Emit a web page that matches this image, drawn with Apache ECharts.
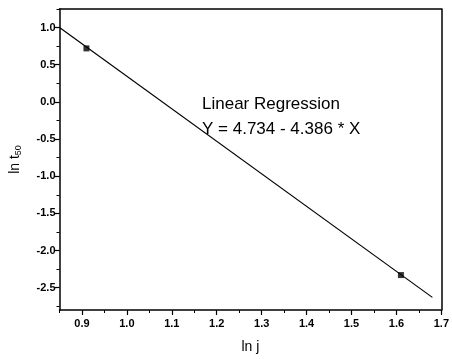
<!DOCTYPE html>
<html>
<head>
<meta charset="utf-8">
<script src="https://cdn.jsdelivr.net/npm/echarts@6/dist/echarts.min.js"></script>
<style>
  html, body { margin: 0; padding: 0; background: #fff; }
  #main { width: 452px; height: 359px; }
</style>
</head>
<body>
<div id="main"></div>
<script>
// measured points (ln j, ln t50)
const pointX = [0.91, 1.61];
const pointY = [0.72, -2.33];
// regression line ends
const fitX = [0.85, 1.68];
const fitY = [1.00, -2.63];

const xMajor = [0.9, 1.0, 1.1, 1.2, 1.3, 1.4, 1.5, 1.6, 1.7];
const xMinor = [0.85, 0.95, 1.05, 1.15, 1.25, 1.35, 1.45, 1.55, 1.65];
const yMajor = [-2.5, -2.0, -1.5, -1.0, -0.5, 0.0, 0.5, 1.0];
const yMinor = [-2.75, -2.25, -1.75, -1.25, -0.75, -0.25, 0.25, 0.75, 1.25];

const fitText = ['Linear Regression', 'Y = 4.734 - 4.386 * X'];

const chart = echarts.init(document.getElementById('main'));

const lineStyle = { color: '#000', width: 1.5 };
const labelStyle = { color: '#000', fontSize: 11, fontWeight: 'bold', fontFamily: 'Liberation Sans, Arial' };

const option = {
  animation: false,
  grid: { left: 53, right: 8, top: 9, bottom: 47 },
  xAxis: [
    {
      type: 'value', min: 0.85, max: 1.7, position: 'bottom',
      axisLine: { show: true, onZero: false, lineStyle: lineStyle },
      axisTick: { show: true, customValues: xMajor, length: 5, lineStyle: { color: '#000', width: 1.2 } },
      axisLabel: Object.assign({ customValues: xMajor, margin: 8, formatter: v => v.toFixed(1) }, labelStyle),
      splitLine: { show: false },
      name: 'ln j', nameLocation: 'middle', nameGap: 30,
      nameTextStyle: { color: '#000', fontSize: 14, fontFamily: 'Liberation Sans, Arial' }
    },
    {
      type: 'value', min: 0.85, max: 1.7, position: 'bottom',
      axisLine: { show: false, onZero: false },
      axisTick: { show: true, customValues: xMinor, length: 3, lineStyle: { color: '#000', width: 1 } },
      axisLabel: { show: false },
      splitLine: { show: false }
    },
    {
      type: 'value', min: 0.85, max: 1.7, position: 'top',
      axisLine: { show: true, onZero: false, lineStyle: lineStyle },
      axisTick: { show: false },
      axisLabel: { show: false },
      splitLine: { show: false }
    }
  ],
  yAxis: [
    {
      type: 'value', min: -2.8, max: 1.25, position: 'left',
      axisLine: { show: true, onZero: false, lineStyle: lineStyle },
      axisTick: { show: true, customValues: yMajor, length: 5, lineStyle: { color: '#000', width: 1.2 } },
      axisLabel: Object.assign({ customValues: yMajor, margin: 4, formatter: v => v.toFixed(1) }, labelStyle),
      splitLine: { show: false },
      name: '{a|ln t}{s|50}', nameLocation: 'middle', nameGap: 36, nameRotate: 90,
      nameTextStyle: {
        rich: {
          a: { color: '#000', fontSize: 14, fontFamily: 'Liberation Sans, Arial' },
          s: { color: '#000', fontSize: 9, fontFamily: 'Liberation Sans, Arial', padding: [8, 0, 0, 0] }
        }
      }
    },
    {
      type: 'value', min: -2.8, max: 1.25, position: 'left',
      axisLine: { show: false, onZero: false },
      axisTick: { show: true, customValues: yMinor, length: 3, lineStyle: { color: '#000', width: 1 } },
      axisLabel: { show: false },
      splitLine: { show: false }
    },
    {
      type: 'value', min: -2.8, max: 1.25, position: 'right',
      axisLine: { show: true, onZero: false, lineStyle: lineStyle },
      axisTick: { show: false },
      axisLabel: { show: false },
      splitLine: { show: false }
    }
  ],
  series: [
    {
      type: 'line',
      data: fitX.map((x, i) => [x, fitY[i]]),
      showSymbol: false,
      lineStyle: { color: '#000', width: 1.2 },
      z: 2
    },
    {
      type: 'scatter',
      data: pointX.map((x, i) => [x, pointY[i]]),
      symbol: 'rect',
      symbolSize: 6,
      itemStyle: { color: '#000' },
      z: 3
    }
  ],
  graphic: [
    {
      type: 'text', left: 202, top: 96,
      style: { text: fitText[0], fill: '#000', font: '17px "Liberation Sans", Arial' }
    },
    {
      type: 'text', left: 202, top: 121,
      style: { text: fitText[1], fill: '#000', font: '17px "Liberation Sans", Arial' }
    }
  ]
};

chart.setOption(option);
</script>
</body>
</html>
